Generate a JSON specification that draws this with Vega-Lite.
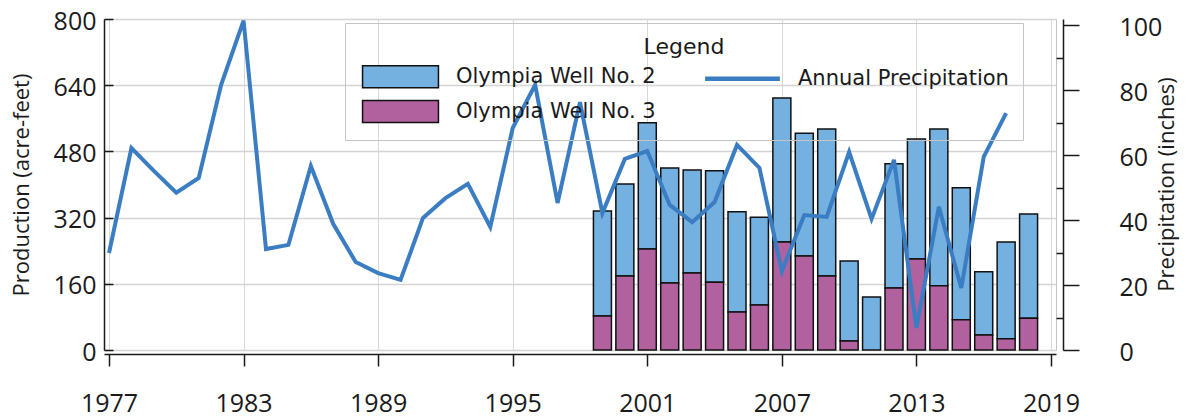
{
  "$schema": "https://vega.github.io/schema/vega-lite/v6.json",
  "width": 952,
  "height": 331,
  "autosize": {"type": "none"},
  "padding": {"left": 104, "top": 19, "right": 132, "bottom": 68},
  "background": "white",
  "config": {
    "view": {"stroke": "#c4c4c4", "strokeWidth": 1},
    "font": "Open Sans",
    "axis": {
      "labelFont": "Open Sans", "labelFontSize": 25, "labelColor": "#1a1a1a",
      "titleFont": "Open Sans", "titleFontSize": 22, "titleFontWeight": "normal", "titleColor": "#1a1a1a",
      "domainColor": "#1a1a1a", "tickColor": "#1a1a1a", "domainWidth": 1.5, "tickWidth": 1.5,
      "gridColor": "#d4d4d4", "gridWidth": 1.3
    }
  },
  "datasets": {
    "production": [
      {"year": 1999, "well": "Olympia Well No. 2", "value": 254}, {"year": 1999, "well": "Olympia Well No. 3", "value": 82},
      {"year": 2000, "well": "Olympia Well No. 2", "value": 222}, {"year": 2000, "well": "Olympia Well No. 3", "value": 179},
      {"year": 2001, "well": "Olympia Well No. 2", "value": 305}, {"year": 2001, "well": "Olympia Well No. 3", "value": 244},
      {"year": 2002, "well": "Olympia Well No. 2", "value": 278}, {"year": 2002, "well": "Olympia Well No. 3", "value": 162},
      {"year": 2003, "well": "Olympia Well No. 2", "value": 249}, {"year": 2003, "well": "Olympia Well No. 3", "value": 186},
      {"year": 2004, "well": "Olympia Well No. 2", "value": 269}, {"year": 2004, "well": "Olympia Well No. 3", "value": 164},
      {"year": 2005, "well": "Olympia Well No. 2", "value": 242}, {"year": 2005, "well": "Olympia Well No. 3", "value": 92},
      {"year": 2006, "well": "Olympia Well No. 2", "value": 212}, {"year": 2006, "well": "Olympia Well No. 3", "value": 109},
      {"year": 2007, "well": "Olympia Well No. 2", "value": 348}, {"year": 2007, "well": "Olympia Well No. 3", "value": 261},
      {"year": 2008, "well": "Olympia Well No. 2", "value": 297}, {"year": 2008, "well": "Olympia Well No. 3", "value": 227},
      {"year": 2009, "well": "Olympia Well No. 2", "value": 355}, {"year": 2009, "well": "Olympia Well No. 3", "value": 179},
      {"year": 2010, "well": "Olympia Well No. 2", "value": 193}, {"year": 2010, "well": "Olympia Well No. 3", "value": 22},
      {"year": 2011, "well": "Olympia Well No. 2", "value": 128},
      {"year": 2012, "well": "Olympia Well No. 2", "value": 300}, {"year": 2012, "well": "Olympia Well No. 3", "value": 150},
      {"year": 2013, "well": "Olympia Well No. 2", "value": 290}, {"year": 2013, "well": "Olympia Well No. 3", "value": 220},
      {"year": 2014, "well": "Olympia Well No. 2", "value": 379}, {"year": 2014, "well": "Olympia Well No. 3", "value": 155},
      {"year": 2015, "well": "Olympia Well No. 2", "value": 319}, {"year": 2015, "well": "Olympia Well No. 3", "value": 73},
      {"year": 2016, "well": "Olympia Well No. 2", "value": 153}, {"year": 2016, "well": "Olympia Well No. 3", "value": 36},
      {"year": 2017, "well": "Olympia Well No. 2", "value": 234}, {"year": 2017, "well": "Olympia Well No. 3", "value": 27},
      {"year": 2018, "well": "Olympia Well No. 2", "value": 252}, {"year": 2018, "well": "Olympia Well No. 3", "value": 77}
    ],
    "precip": [
      {"year": 1977, "inches": 29.9}, {"year": 1978, "inches": 62.2}, {"year": 1979, "inches": 55.2},
      {"year": 1980, "inches": 48.5}, {"year": 1981, "inches": 53.0}, {"year": 1982, "inches": 81.7},
      {"year": 1983, "inches": 101.5}, {"year": 1984, "inches": 31.1}, {"year": 1985, "inches": 32.4},
      {"year": 1986, "inches": 56.7}, {"year": 1987, "inches": 38.8}, {"year": 1988, "inches": 27.1},
      {"year": 1989, "inches": 23.7}, {"year": 1990, "inches": 21.6}, {"year": 1991, "inches": 40.7},
      {"year": 1992, "inches": 46.8}, {"year": 1993, "inches": 51.2}, {"year": 1994, "inches": 37.9},
      {"year": 1995, "inches": 68.4}, {"year": 1996, "inches": 81.7}, {"year": 1997, "inches": 45.3},
      {"year": 1998, "inches": 76.4}, {"year": 1999, "inches": 42.2}, {"year": 2000, "inches": 58.9},
      {"year": 2001, "inches": 61.3}, {"year": 2002, "inches": 44.7}, {"year": 2003, "inches": 39.4},
      {"year": 2004, "inches": 45.6}, {"year": 2005, "inches": 63.2}, {"year": 2006, "inches": 56.1},
      {"year": 2007, "inches": 24.3}, {"year": 2008, "inches": 41.6}, {"year": 2009, "inches": 41.0},
      {"year": 2010, "inches": 61.0}, {"year": 2011, "inches": 40.4}, {"year": 2012, "inches": 58.6},
      {"year": 2013, "inches": 6.8}, {"year": 2014, "inches": 44.1}, {"year": 2015, "inches": 19.1},
      {"year": 2016, "inches": 59.5}, {"year": 2017, "inches": 73.0}
    ]
  },
  "layer": [
    {
      "layer": [
        {
          "data": {"name": "production"},
          "mark": {"type": "bar", "size": 18, "stroke": "#111111", "strokeWidth": 1.5},
          "encoding": {
            "x": {
              "field": "year", "type": "quantitative",
              "scale": {"domain": [1977, 2019], "nice": false, "zero": false},
              "axis": {
                "values": [1977, 1983, 1989, 1995, 2001, 2007, 2013, 2019],
                "format": "d", "title": null, "offset": 4, "tickSize": 12,
                "labelPadding": 25, "labelFlush": false, "grid": true, "gridColor": "#d9d9d9", "gridWidth": 1
              }
            },
            "y": {
              "field": "value", "type": "quantitative", "stack": "zero",
              "scale": {"domain": [0, 800], "nice": false},
              "axis": {
                "values": [0, 80, 160, 240, 320, 400, 480, 560, 640, 720, 800],
                "labelExpr": "datum.value % 160 === 0 ? datum.label : ''",
                "tickSize": -9, "labelPadding": 17, "labelOffset": 2,
                "title": "Production (acre-feet)", "titlePadding": 20, "grid": true
              }
            },
            "color": {
              "field": "well", "type": "nominal",
              "scale": {
                "domain": ["Olympia Well No. 2", "Olympia Well No. 3", "Annual Precipitation"],
                "range": ["#74B0E0", "#B0619E", "#3B7DC3"]
              },
              "legend": {
                "title": "Legend", "orient": "none", "legendX": 241, "legendY": 4,
                "columns": 2, "titleAnchor": "middle",
                "values": ["Olympia Well No. 2", "Olympia Well No. 3", "Annual Precipitation"],
                "titleFont": "DejaVu Sans", "titleFontSize": 22, "titleFontWeight": "normal", "titleColor": "#1a1a1a", "titlePadding": 7,
                "labelFont": "DejaVu Sans", "labelFontSize": 21, "labelColor": "#1a1a1a", "labelOffset": 45, "labelLimit": 400,
                "symbolType": "M-3.45,-1H3.45V1H-3.45Z", "symbolSize": 484, "symbolOffset": 31,
                "symbolStrokeWidth": 1.5, "symbolStrokeColor": "#111111",
                "rowPadding": 6, "columnPadding": 40, "padding": 14,
                "strokeColor": "#c4c4c4",
                "encode": {
                  "symbols": {
                    "update": {
                      "shape": {"signal": "datum.value === 'Annual Precipitation' ? 'M-3.4,0H3.4' : 'M-3.45,-1H3.45V1H-3.45Z'"},
                      "stroke": {"signal": "datum.value === 'Annual Precipitation' ? '#3B7DC3' : '#111111'"},
                      "strokeOpacity": {"value": 1},
                      "strokeWidth": {"signal": "datum.value === 'Annual Precipitation' ? 4.5 : 1.5"},
                      "opacity": {"value": 1}
                    }
                  }
                }
              }
            },
            "order": {"field": "well", "sort": "descending"}
          }
        },
        {
          "mark": {"type": "rule", "color": "#1a1a1a", "strokeWidth": 1.5},
          "encoding": {"y": {"datum": 0}}
        },
        {
          "mark": {"type": "rule", "color": "#1a1a1a", "strokeWidth": 1.5},
          "encoding": {"y": {"datum": 800}}
        }
      ]
    },
    {
      "data": {"name": "precip"},
      "mark": {"type": "line", "strokeWidth": 4, "color": "#3B7DC3"},
      "encoding": {
        "x": {"field": "year", "type": "quantitative", "scale": {"domain": [1977, 2019], "nice": false, "zero": false}},
        "y": {
          "field": "inches", "type": "quantitative",
          "scale": {"domain": [0, 102], "nice": false},
          "axis": {
            "orient": "right", "offset": 7,
            "values": [0, 10, 20, 30, 40, 50, 60, 70, 80, 90, 100],
            "labelExpr": "datum.value % 20 === 0 ? datum.label : ''",
            "tickSize": {"condition": {"test": "datum.value % 20 === 0", "value": 16}, "value": -7},
            "labelPadding": 40, "labelOffset": 2, "grid": false,
            "title": "Precipitation (inches)", "titleAngle": 270, "titleBaseline": "top",
            "titleX": 93, "titleY": 165
          }
        }
      }
    }
  ],
  "resolve": {"scale": {"y": "independent"}}
}
